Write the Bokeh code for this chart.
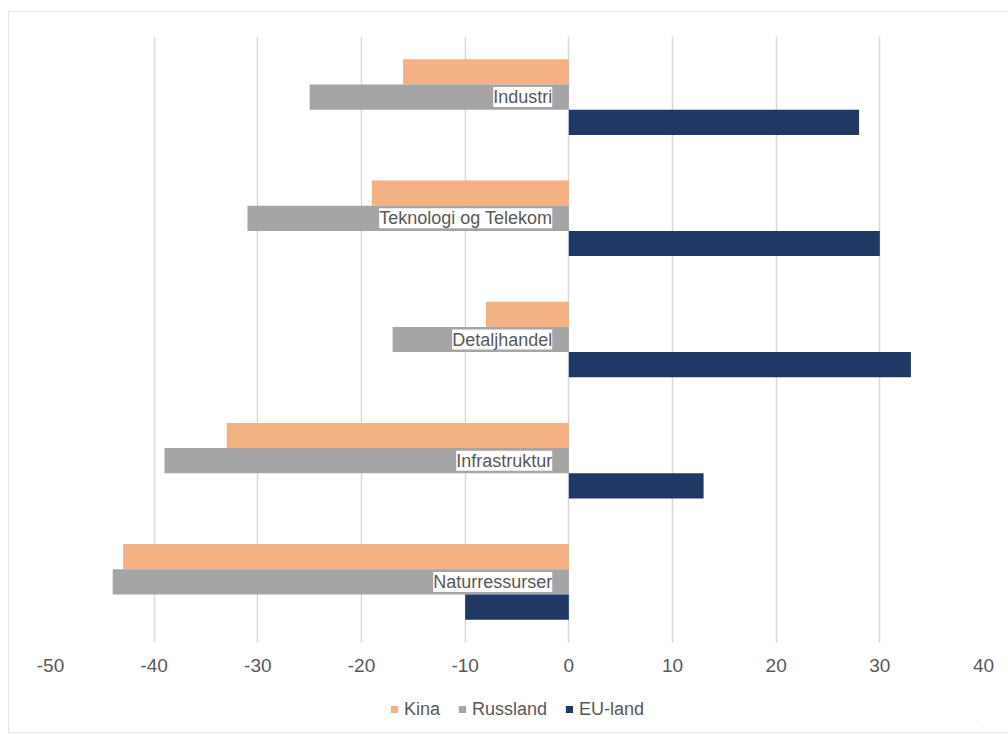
from bokeh.plotting import figure
from bokeh.layouts import column
from bokeh.models import (ColumnDataSource, FactorRange, Range1d, LabelSet,
                          Legend, LegendItem, FixedTicker)
from bokeh.core.properties import value
from bokeh.embed import file_html
from bokeh.resources import INLINE

categories = ["Industri", "Teknologi og Telekom", "Detaljhandel", "Infrastruktur", "Naturressurser"]
series = ["Kina", "Russland", "EU-land"]
kina = [-16, -19, -8, -33, -43]
russland = [-25, -31, -17, -39, -44]
eu_land = [28, 30, 33, 13, -10]
colors = ["#F4B183", "#A5A5A5", "#1F3864"]
x_ticks = [-50, -40, -30, -20, -10, 0, 10, 20, 30, 40]

FONT = "Liberation Sans"
TXT = "#595959"

factors = [(c, s) for c in reversed(categories) for s in reversed(series)]
y_range = FactorRange(*factors, factor_padding=0, group_padding=1.81,
                      range_padding=0.905, range_padding_units="absolute")

p = figure(width=999, height=678, x_range=Range1d(-50, 40), y_range=y_range,
           output_backend="svg", toolbar_location=None,
           min_border_left=39, min_border_right=25, min_border_top=24,
           min_border_bottom=48)
p.outline_line_color = None
p.background_fill_color = "white"
p.border_fill_color = "white"

values = {"Kina": kina, "Russland": russland, "EU-land": eu_land}
for s, col in zip(series, colors):
    src = ColumnDataSource(dict(y=[(c, s) for c in categories], right=values[s],
                                left=[0] * len(categories)))
    p.hbar(y="y", left="left", right="right", height=1.0, source=src,
           fill_color=col, line_color=None)

lab_src = ColumnDataSource(dict(x=[-1.6] * len(categories),
                                y=[(c, "Russland") for c in categories],
                                text=categories))
labels = LabelSet(x="x", y="y", text="text", source=lab_src,
                  text_align="right", text_baseline="middle",
                  text_font=value(FONT), text_font_size="18px", text_color=TXT,
                  background_fill_color="white")
p.add_layout(labels)

p.yaxis.visible = False
p.ygrid.grid_line_color = None

p.xaxis.ticker = FixedTicker(ticks=x_ticks)
p.xaxis.major_label_overrides = {t: str(t) for t in x_ticks}
p.xaxis.axis_line_color = None
p.xaxis.major_tick_line_color = None
p.xaxis.minor_tick_line_color = None
p.xaxis.major_label_standoff = 10
p.xaxis.major_label_text_font = FONT
p.xaxis.major_label_text_font_size = "19px"
p.xaxis.major_label_text_color = TXT

p.xgrid.ticker = FixedTicker(ticks=x_ticks)
p.xgrid.grid_line_color = "#d9d9d9"
p.xgrid.grid_line_width = 1.5

# legend strip below the chart (swatch renderers sit fully outside its visible range)
pl = figure(width=999, height=42, x_range=Range1d(0, 1), y_range=Range1d(0, 1),
            output_backend="svg", toolbar_location=None,
            x_axis_location=None, y_axis_location=None,
            min_border_left=41, min_border_right=19, min_border_top=0,
            min_border_bottom=5)
pl.outline_line_color = None
pl.grid.visible = False
pl.background_fill_color = "white"
pl.border_fill_color = "white"
items = []
for s, col in zip(series, colors):
    r = pl.hbar(y=[-5], left=[5], right=[6], height=1.0, fill_color=col, line_color=None)
    items.append(LegendItem(label=s, renderers=[r]))
legend = Legend(items=items, orientation="horizontal", location="center",
                glyph_width=9, glyph_height=9, label_standoff=6, spacing=17,
                label_text_font=FONT, label_text_font_size="18px",
                label_text_color=TXT, border_line_color=None,
                background_fill_alpha=0, margin=0, padding=0)
pl.add_layout(legend)

layout = column(p, pl, spacing=0,
                styles={"margin-left": "9px", "margin-top": "12px",
                        "outline": "1px solid #e3e3e3"})

open("out.html", "w").write(file_html(layout, INLINE))
